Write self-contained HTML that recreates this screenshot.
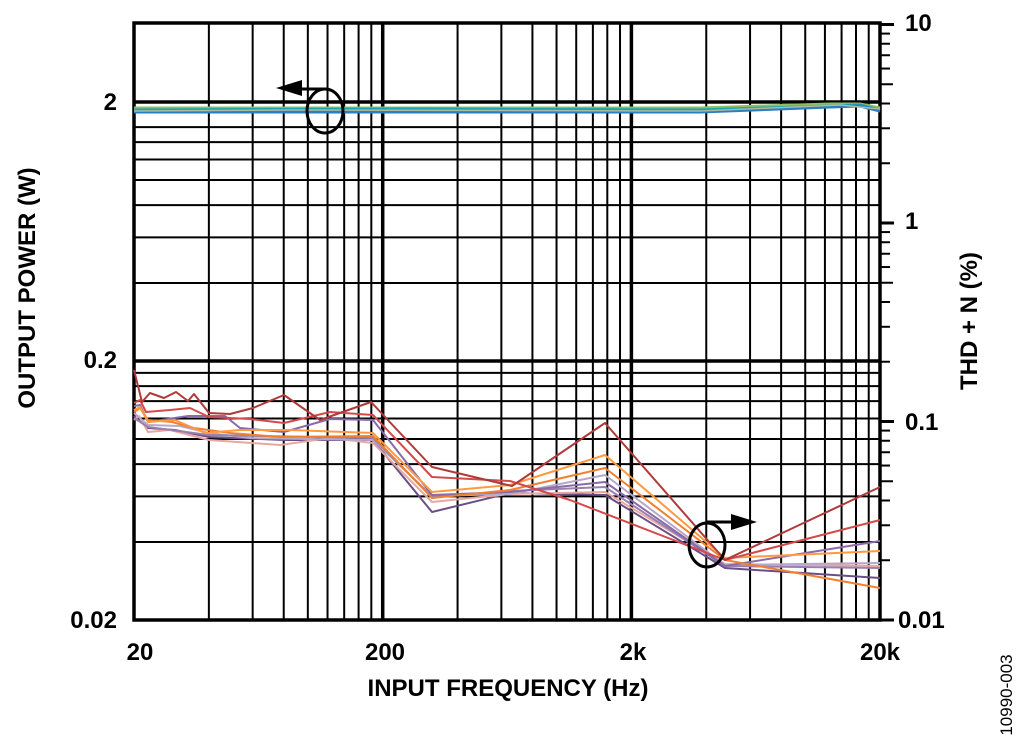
<!DOCTYPE html>
<html><head><meta charset="utf-8"><style>body{margin:0;background:#fff}svg{display:block}text{font-family:"Liberation Sans",Arial,sans-serif;font-weight:bold}</style></head>
<body>
<svg id="s" width="1024" height="749" viewBox="0 0 1024 749" xmlns="http://www.w3.org/2000/svg">
<g id="grid" stroke="#000" fill="none"></g>
<g id="data" fill="none" stroke-width="2" stroke-linejoin="round"></g>
<g stroke="#000" stroke-width="3" fill="none">
<ellipse cx="325" cy="111" rx="18" ry="22"/>
<polyline points="325,89 300,89"/>
<ellipse cx="707" cy="545" rx="18" ry="22"/>
<polyline points="707,522 735,522"/>
</g>
<polygon points="276,88 302,80 302,96" fill="#000"/>
<polygon points="757,522 731,514 731,530" fill="#000"/>
<g font-size="24" text-anchor="end">
<text x="117" y="110">2</text>
<text x="117" y="368">0.2</text>
<text x="117" y="628">0.02</text>
</g>
<g font-size="24" text-anchor="start">
<text x="905" y="31">10</text>
<text x="905" y="229">1</text>
<text x="905" y="430">0.1</text>
<text x="898" y="628">0.01</text>
</g>
<g font-size="24" text-anchor="middle">
<text x="140" y="660">20</text>
<text x="385" y="660">200</text>
<text x="633" y="660">2k</text>
<text x="880" y="660">20k</text>
<text x="508" y="696">INPUT FREQUENCY (Hz)</text>
<text transform="translate(35,288) rotate(-90)">OUTPUT POWER (W)</text>
<text transform="translate(977,321) rotate(-90)">THD + N (%)</text>
</g>
<text transform="translate(1012,695) rotate(-90)" font-size="17" style="font-weight:normal" text-anchor="middle">10990-003</text>
</svg>
<script>
const NS="http://www.w3.org/2000/svg",g=document.getElementById('grid'),d=document.getElementById('data');
function ln(x1,y1,x2,y2,w,p){const l=document.createElementNS(NS,'line');l.setAttribute('x1',x1);l.setAttribute('y1',y1);l.setAttribute('x2',x2);l.setAttribute('y2',y2);l.setAttribute('stroke-width',w);(p||g).appendChild(l);}
const L=134,R=880,T=23,B=620;
const fx=f=>L+248.7*Math.log10(f/20);
for(const dec of [20,200,2000]){for(let m=1;m<=9;m++){const f=dec*m;const x=fx(f);if(f==20)continue;ln(x,T,x,B,m==1?3.5:2);}}
const fy=v=>620-259*Math.log10(v/0.02);
[0.04,0.06,0.08,0.1,0.12,0.14,0.16,0.18,0.4,0.6,0.8,1.0,1.2,1.4,1.6].forEach(v=>ln(L,fy(v),R,fy(v),2));
ln(L,fy(0.2),R,fy(0.2),3.5);ln(L,fy(2),R,fy(2),3.5);
const ry=v=>620-198.5*Math.log10(v/0.01);
for(const dec of [0.01,0.1,1]){for(let m=1;m<=9;m++){const y=ry(dec*m);ln(R,y,m==1?894:(m==5?893:890),y,m==1?3:2);}}
ln(R,ry(10),894,ry(10),3);
const r=document.createElementNS(NS,'rect');r.setAttribute('x',L);r.setAttribute('y',T);r.setAttribute('width',R-L);r.setAttribute('height',B-T);r.setAttribute('stroke-width',3.5);g.appendChild(r);
function pl(pts,c,w){const p=document.createElementNS(NS,'polyline');p.setAttribute('points',pts);p.setAttribute('stroke',c);p.setAttribute('stroke-width',w||2);d.appendChild(p);}
pl("134,108 400,108 700,108 830,104 860,104 880,108","#8fc060",3);
pl("134,110 400,109 700,110 830,106 860,105 880,110","#1aa5b5",3);
pl("134,112 400,112 700,112 830,107 860,106 880,111","#2a7fc0",3);
pl("134,111 300,110 700,111 840,105 880,109","#b0b8a0",1.5);
pl("134,416 148,428 175,430 209,437 284,440 373,440 432,512 510,493 605,495 725,568 880,578","#6a4f86");
pl("134,420 139,416 148,432 170,430 209,440 280,445 330,438 373,443 432,502 510,494 605,492 725,564 880,566","#e8a8a0");
pl("134,413 148,425 180,426 209,433 250,438 373,440 432,496 510,494 605,475 725,565 880,563","#b8a8c8");
pl("134,418 148,427 209,435 373,438 432,497 510,491 605,487 725,566 880,568","#9a80b0");
pl("134,406 140,405 148,422 188,416 225,416 240,428 284,432 330,419 373,420 432,495 510,492 605,482 725,566 880,541","#8a6aa8");
pl("134,412 140,408 148,420 172,422 194,428 230,433 280,437 373,436 432,498 510,490 605,468 725,560 880,588","#f08030");
pl("134,410 140,407 148,422 175,420 205,433 240,430 290,430 373,433 432,492 510,485 605,455 725,558 880,551","#ff9a40");
pl("134,403 140,400 146,412 170,410 190,408 209,417 250,419 284,423 330,412 373,415 432,477 510,481 570,500 725,560 880,520","#d44a4a");
pl("134,370 142,402 150,393 164,398 176,392 188,401 194,394 209,413 230,414 253,408 284,395 320,420 371,402 432,467 512,486 605,423 725,560 880,487","#b03a3a");
</script>
</body></html>
